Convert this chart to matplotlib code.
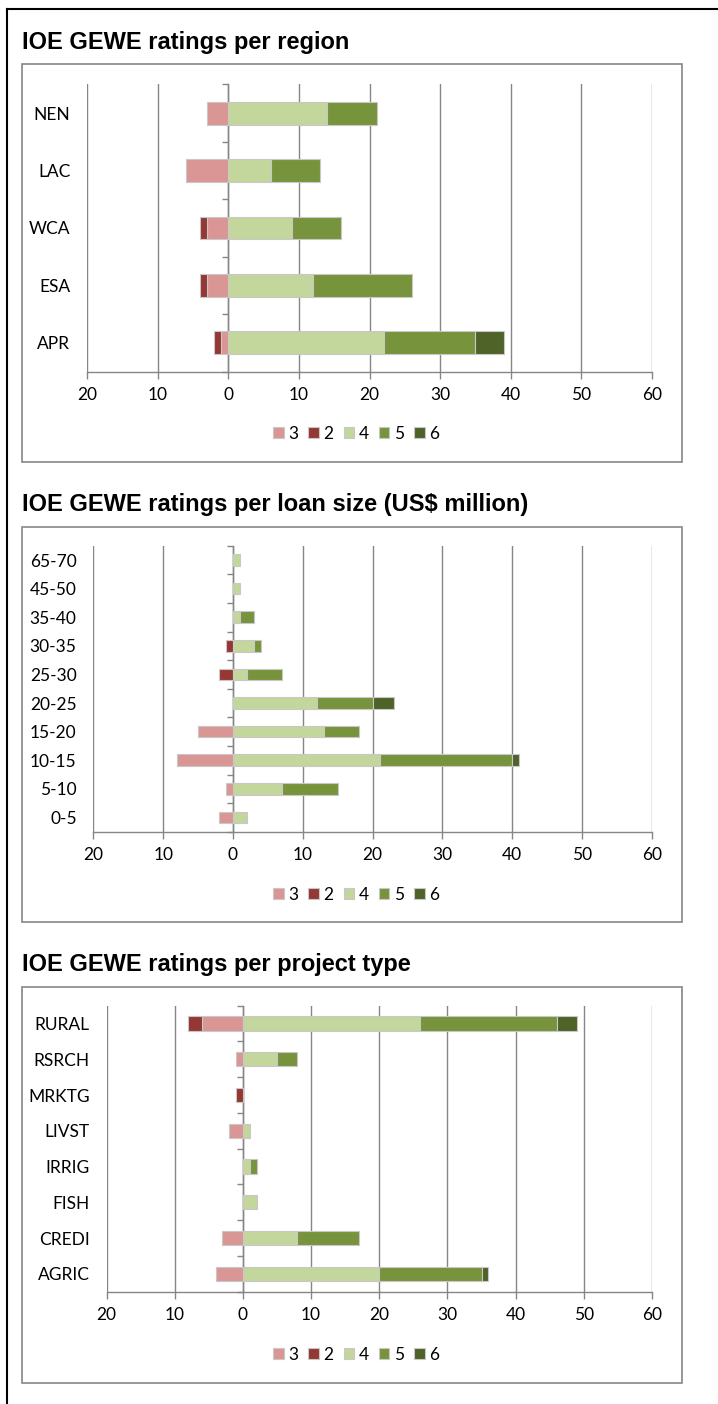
import numpy as np
import matplotlib.pyplot as plt
from matplotlib.patches import Rectangle, Patch
from matplotlib.lines import Line2D

# rating classes, in legend order
rating_labels = ['3', '2', '4', '5', '6']
rating_colors = ['#D99694', '#953735', '#C3D69B', '#77933C', '#4F6228']

# panel 1: per region (bottom to top)
regions = ['APR', 'ESA', 'WCA', 'LAC', 'NEN']
region_r3 = [1, 3, 3, 6, 3]
region_r2 = [1, 1, 1, 0, 0]
region_r4 = [22, 12, 9, 6, 14]
region_r5 = [13, 14, 7, 7, 7]
region_r6 = [4, 0, 0, 0, 0]

# panel 2: per loan size (US$ million)
loan_sizes = ['0-5', '5-10', '10-15', '15-20', '20-25', '25-30',
              '30-35', '35-40', '45-50', '65-70']
loan_r3 = [2, 1, 8, 5, 0, 0, 0, 0, 0, 0]
loan_r2 = [0, 0, 0, 0, 0, 2, 1, 0, 0, 0]
loan_r4 = [2, 7, 21, 13, 12, 2, 3, 1, 1, 1]
loan_r5 = [0, 8, 19, 5, 8, 5, 1, 2, 0, 0]
loan_r6 = [0, 0, 1, 0, 3, 0, 0, 0, 0, 0]

# panel 3: per project type
project_types = ['AGRIC', 'CREDI', 'FISH', 'IRRIG', 'LIVST', 'MRKTG', 'RSRCH', 'RURAL']
proj_r3 = [4, 3, 0, 0, 2, 0, 1, 6]
proj_r2 = [0, 0, 0, 0, 0, 1, 0, 2]
proj_r4 = [20, 8, 2, 1, 1, 0, 5, 26]
proj_r5 = [15, 9, 0, 1, 0, 0, 3, 20]
proj_r6 = [1, 0, 0, 0, 0, 0, 0, 3]

xticks = np.arange(-20, 61, 10)

W, H = 718, 1404
GRID = '#868686'
fig = plt.figure(figsize=(W / 100, H / 100), dpi=100)


def frect(left, top, right, bottom):
    return [left / W, 1 - bottom / H, (right - left) / W, (bottom - top) / H]


def draw_bars(ax, y, width, left, color):
    width = np.asarray(width, float)
    left = np.asarray(left, float)
    keep = width != 0
    ax.barh(y[keep], width[keep], left=left[keep], height=0.4, color=color,
            edgecolor='#C8C8C8', linewidth=0.8, zorder=3)


def panel(title, cats, r3, r2, r4, r5, r6, plot_box, box_top, box_bottom,
          title_y, legend_y):
    r3, r2, r4, r5, r6 = [np.asarray(v, float) for v in (r3, r2, r4, r5, r6)]
    y = np.arange(len(cats))

    fig.text(22 / W, 1 - title_y / H, title, fontfamily='Liberation Sans',
             fontweight='bold', fontsize=17, va='baseline')
    fig.add_artist(Rectangle((22 / W, 1 - box_bottom / H), (682 - 22) / W,
                             (box_bottom - box_top) / H, transform=fig.transFigure,
                             fill=False, edgecolor=GRID, linewidth=1.2))

    ax = fig.add_axes(frect(*plot_box))
    draw_bars(ax, y, -r3, np.zeros_like(r3), rating_colors[0])
    draw_bars(ax, y, -r2, -r3, rating_colors[1])
    draw_bars(ax, y, r4, np.zeros_like(r4), rating_colors[2])
    draw_bars(ax, y, r5, r4, rating_colors[3])
    draw_bars(ax, y, r6, r4 + r5, rating_colors[4])

    ax.set_xlim(-20, 60)
    ax.set_ylim(-0.5, len(cats) - 0.5)
    ax.set_xticks(xticks)
    ax.set_xticklabels([str(abs(t)) for t in xticks])
    ax.set_yticks(y)
    ax.set_yticklabels(cats)
    ax.grid(axis='x', color=GRID, linewidth=1.0)
    ax.set_axisbelow(True)
    for s in ['top', 'right', 'left']:
        ax.spines[s].set_visible(False)
    ax.spines['bottom'].set_color(GRID)
    ax.spines['bottom'].set_linewidth(1.0)
    ax.tick_params(axis='x', direction='out', length=5, color=GRID, width=1.0,
                   pad=6, labelsize=12.5)
    ax.tick_params(axis='y', length=0, pad=12, labelsize=12.5)
    for lab in ax.get_xticklabels() + ax.get_yticklabels():
        lab.set_fontfamily('Lato')

    # vertical category axis sitting at x = 0
    sec = ax.secondary_yaxis(20 / 80)
    sec.set_yticks(np.arange(len(cats) + 1) - 0.5)
    sec.set_yticklabels([])
    sec.tick_params(direction='out', length=4, color=GRID, width=1.0)
    sec.spines['left'].set_color(GRID)
    sec.spines['left'].set_linewidth(1.0)

    handles = [Patch(facecolor=c, edgecolor='#C8C8C8', linewidth=0.8)
               for c in rating_colors]
    fig.legend(handles, rating_labels, loc='center',
               bbox_to_anchor=(356 / W, 1 - legend_y / H), ncol=5, frameon=False,
               prop={'family': 'Lato', 'size': 12.5}, handlelength=0.6,
               handleheight=0.6, handletextpad=0.25, columnspacing=0.6)


panel('IOE GEWE ratings per region', regions,
      region_r3, region_r2, region_r4, region_r5, region_r6,
      (87, 84.3, 652, 371.7), 64.5, 462, 49, 434)
panel('IOE GEWE ratings per loan size (US$ million)', loan_sizes,
      loan_r3, loan_r2, loan_r4, loan_r5, loan_r6,
      (93.3, 545.7, 652, 831.7), 527, 922, 511.5, 895)
panel('IOE GEWE ratings per project type', project_types,
      proj_r3, proj_r2, proj_r4, proj_r5, proj_r6,
      (106.5, 1005.7, 652, 1291.7), 987, 1383, 971.5, 1355)

# outer page frame (left and top edges)
fig.add_artist(Line2D([7 / W, 7 / W], [0, 1 - 9 / H], transform=fig.transFigure,
                      color='black', linewidth=1.5))
fig.add_artist(Line2D([7 / W, 1], [1 - 9 / H, 1 - 9 / H], transform=fig.transFigure,
                      color='black', linewidth=1.5))

fig.savefig('out.png', dpi=100)
